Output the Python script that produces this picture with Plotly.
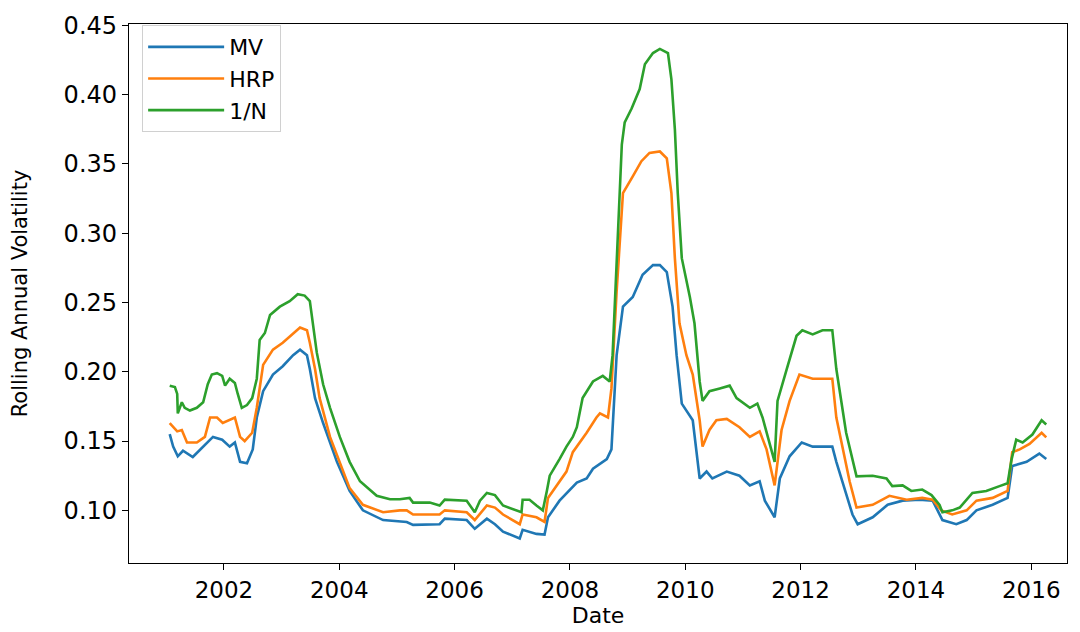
import plotly.graph_objects as go

# ---- data ----
mv_t = [2001.06, 2001.12, 2001.20, 2001.29, 2001.46, 2001.64, 2001.81, 2001.97, 2002.10, 2002.19,
        2002.28, 2002.40, 2002.50, 2002.57, 2002.68, 2002.85, 2003.02, 2003.20, 2003.32, 2003.44,
        2003.49, 2003.58, 2003.72, 2003.96, 2004.18, 2004.41, 2004.76, 2005.17, 2005.28, 2005.74,
        2005.83, 2006.21, 2006.35, 2006.56, 2006.70, 2006.84, 2007.13, 2007.18, 2007.42, 2007.56,
        2007.62, 2007.82, 2008.12, 2008.29, 2008.40, 2008.64, 2008.72, 2008.81, 2008.92, 2009.09,
        2009.26, 2009.44, 2009.56, 2009.68, 2009.78, 2009.85, 2009.94, 2010.13, 2010.25, 2010.37,
        2010.47, 2010.72, 2010.94, 2011.12, 2011.29, 2011.38, 2011.55, 2011.64, 2011.81, 2012.02,
        2012.21, 2012.55, 2012.62, 2012.90, 2012.99, 2013.25, 2013.51, 2013.77, 2014.06, 2014.29,
        2014.46, 2014.70, 2014.88, 2015.05, 2015.33, 2015.59, 2015.67, 2015.92, 2016.14, 2016.26]
mv_v = [0.155, 0.146, 0.139, 0.143, 0.1385, 0.146, 0.153, 0.151, 0.146, 0.149,
        0.135, 0.134, 0.144, 0.167, 0.186, 0.198, 0.204, 0.212, 0.216, 0.212,
        0.202, 0.181, 0.163, 0.135, 0.114, 0.100, 0.093, 0.0916, 0.0895, 0.090,
        0.094, 0.093, 0.0867, 0.094, 0.090, 0.0846, 0.0797, 0.086, 0.083, 0.0825,
        0.095, 0.107, 0.120, 0.123, 0.130, 0.137, 0.144, 0.212, 0.247, 0.254,
        0.270, 0.277, 0.277, 0.272, 0.247, 0.212, 0.177, 0.165, 0.123, 0.128,
        0.123, 0.128, 0.125, 0.118, 0.121, 0.107, 0.095, 0.123, 0.139, 0.149,
        0.146, 0.146, 0.135, 0.097, 0.090, 0.095, 0.104, 0.107, 0.1077, 0.107,
        0.093, 0.090, 0.093, 0.100, 0.104, 0.109, 0.132, 0.135, 0.141, 0.137]

hrp_t = [2001.06, 2001.19, 2001.27, 2001.36, 2001.53, 2001.67, 2001.76, 2001.88, 2001.98, 2002.10,
         2002.19, 2002.28, 2002.36, 2002.49, 2002.57, 2002.68, 2002.85, 2003.02, 2003.20, 2003.32,
         2003.44, 2003.49, 2003.58, 2003.66, 2003.84, 2004.01, 2004.18, 2004.41, 2004.76, 2005.05,
         2005.17, 2005.28, 2005.74, 2005.83, 2006.21, 2006.35, 2006.56, 2006.70, 2006.84, 2007.13,
         2007.18, 2007.42, 2007.56, 2007.62, 2007.77, 2007.94, 2008.05, 2008.12, 2008.29, 2008.46,
         2008.52, 2008.66, 2008.72, 2008.81, 2008.92, 2009.09, 2009.24, 2009.38, 2009.56, 2009.68,
         2009.76, 2009.82, 2009.90, 2010.02, 2010.13, 2010.25, 2010.30, 2010.42, 2010.54, 2010.72,
         2010.94, 2011.12, 2011.29, 2011.41, 2011.55, 2011.67, 2011.81, 2011.98, 2012.21, 2012.55,
         2012.62, 2012.85, 2012.97, 2013.25, 2013.54, 2013.84, 2014.11, 2014.29, 2014.44, 2014.63,
         2014.88, 2015.05, 2015.33, 2015.59, 2015.67, 2015.80, 2015.97, 2016.18, 2016.26]
hrp_v = [0.163, 0.157, 0.158, 0.149, 0.149, 0.153, 0.167, 0.167, 0.163, 0.165,
         0.167, 0.153, 0.150, 0.156, 0.174, 0.205, 0.216, 0.221, 0.228, 0.232,
         0.230, 0.221, 0.202, 0.181, 0.153, 0.135, 0.116, 0.104, 0.0986, 0.100,
         0.100, 0.097, 0.097, 0.100, 0.0986, 0.093, 0.1035, 0.102, 0.097, 0.090,
         0.097, 0.095, 0.0916, 0.109, 0.118, 0.128, 0.142, 0.146, 0.156, 0.167,
         0.170, 0.167, 0.188, 0.258, 0.329, 0.341, 0.352, 0.358, 0.359, 0.354,
         0.329, 0.282, 0.235, 0.212, 0.198, 0.165, 0.146, 0.158, 0.165, 0.166,
         0.160, 0.153, 0.157, 0.144, 0.118, 0.158, 0.179, 0.198, 0.195, 0.195,
         0.167, 0.121, 0.102, 0.104, 0.1105, 0.1077, 0.109, 0.1077, 0.100, 0.097,
         0.100, 0.107, 0.109, 0.114, 0.142, 0.144, 0.148, 0.156, 0.1526]

ew_t = [2001.06, 2001.15, 2001.19, 2001.20, 2001.27, 2001.32, 2001.41, 2001.53, 2001.64, 2001.72,
        2001.79, 2001.88, 2001.97, 2002.02, 2002.10, 2002.19, 2002.24, 2002.31, 2002.40, 2002.49,
        2002.57, 2002.62, 2002.71, 2002.80, 2002.97, 2003.14, 2003.28, 2003.40, 2003.49, 2003.54,
        2003.61, 2003.72, 2003.84, 2004.01, 2004.18, 2004.36, 2004.65, 2004.88, 2005.05, 2005.22,
        2005.28, 2005.57, 2005.74, 2005.83, 2006.21, 2006.35, 2006.44, 2006.56, 2006.70, 2006.84,
        2007.08, 2007.16, 2007.18, 2007.30, 2007.42, 2007.53, 2007.60, 2007.65, 2007.82, 2007.94,
        2008.05, 2008.12, 2008.22, 2008.40, 2008.57, 2008.69, 2008.74, 2008.83, 2008.90, 2008.95,
        2009.07, 2009.21, 2009.30, 2009.44, 2009.56, 2009.70, 2009.76, 2009.82, 2009.87, 2009.94,
        2010.08, 2010.16, 2010.25, 2010.30, 2010.42, 2010.60, 2010.77, 2010.89, 2011.12, 2011.25,
        2011.34, 2011.55, 2011.60, 2011.76, 2011.93, 2012.03, 2012.21, 2012.38, 2012.55, 2012.62,
        2012.79, 2012.97, 2013.25, 2013.49, 2013.59, 2013.77, 2013.92, 2014.11, 2014.27, 2014.41,
        2014.46, 2014.63, 2014.76, 2014.98, 2015.22, 2015.45, 2015.59, 2015.66, 2015.74, 2015.85,
        2016.02, 2016.18, 2016.26]
ew_v = [0.190, 0.189, 0.184, 0.170, 0.178, 0.174, 0.172, 0.174, 0.178, 0.191,
        0.198, 0.199, 0.197, 0.190, 0.195, 0.192, 0.184, 0.174, 0.176, 0.181,
        0.195, 0.223, 0.228, 0.241, 0.247, 0.251, 0.256, 0.255, 0.251, 0.237,
        0.214, 0.191, 0.174, 0.153, 0.135, 0.121, 0.1105, 0.108, 0.108, 0.109,
        0.1056, 0.1056, 0.1035, 0.1077, 0.107, 0.0986, 0.107, 0.1126, 0.111, 0.1035,
        0.100, 0.0986, 0.1077, 0.1077, 0.1035, 0.100, 0.114, 0.125, 0.137, 0.146,
        0.153, 0.160, 0.181, 0.193, 0.197, 0.193, 0.212, 0.305, 0.364, 0.380,
        0.390, 0.404, 0.422, 0.430, 0.433, 0.430, 0.411, 0.375, 0.329, 0.282,
        0.254, 0.235, 0.193, 0.179, 0.186, 0.188, 0.190, 0.181, 0.174, 0.177,
        0.167, 0.135, 0.179, 0.202, 0.226, 0.230, 0.227, 0.230, 0.230, 0.202,
        0.156, 0.1245, 0.125, 0.123, 0.1175, 0.118, 0.114, 0.115, 0.111, 0.104,
        0.0986, 0.100, 0.102, 0.1126, 0.114, 0.1175, 0.1196, 0.137, 0.151, 0.149,
        0.1547, 0.165, 0.162]

x_ticks = [2002, 2004, 2006, 2008, 2010, 2012, 2014, 2016]
y_ticks = [0.10, 0.15, 0.20, 0.25, 0.30, 0.35, 0.40, 0.45]

series = [("MV", mv_t, mv_v, "#1f77b4"),
          ("HRP", hrp_t, hrp_v, "#ff7f0e"),
          ("1/N", ew_t, ew_v, "#2ca02c")]

fig = go.Figure()
for name, t, v, c in series:
    fig.add_trace(go.Scatter(x=t, y=v, mode="lines", name=name,
                             line=dict(color=c, width=2.6)))

font_fam = "DejaVu Sans"
fig.update_layout(
    width=1080, height=632,
    margin=dict(l=129, r=12, t=14, b=65),
    paper_bgcolor="white", plot_bgcolor="white",
    font=dict(family=font_fam, color="black"),
    showlegend=True,
    legend=dict(x=0.014, y=0.998, xanchor="left", yanchor="top",
                bgcolor="rgba(255,255,255,0.8)", bordercolor="#d0d0d0", borderwidth=1,
                font=dict(family=font_fam, size=22, color="black"),
                tracegroupgap=0, itemwidth=76),
)
fig.update_xaxes(
    range=[2000.354, 2016.62], tickvals=x_ticks, ticktext=[str(t) for t in x_ticks],
    showgrid=False, zeroline=False, showline=True, linecolor="black", linewidth=1.3, mirror=True,
    ticks="outside", ticklen=6, tickwidth=1.2, tickcolor="black",
    tickfont=dict(family=font_fam, size=23, color="black"),
    title=dict(text="Date", font=dict(family=font_fam, size=22, color="black"), standoff=2),
)
fig.update_yaxes(
    range=[0.062, 0.451], tickvals=y_ticks, ticktext=["%.2f" % t for t in y_ticks],
    showgrid=False, zeroline=False, showline=True, linecolor="black", linewidth=1.3, mirror=True,
    ticks="outside", ticklen=6, tickwidth=1.2, tickcolor="black",
    tickfont=dict(family=font_fam, size=24, color="black"),
    title=dict(text="Rolling Annual Volatility", font=dict(family=font_fam, size=21, color="black"), standoff=30),
)

fig.write_html("out.html")
